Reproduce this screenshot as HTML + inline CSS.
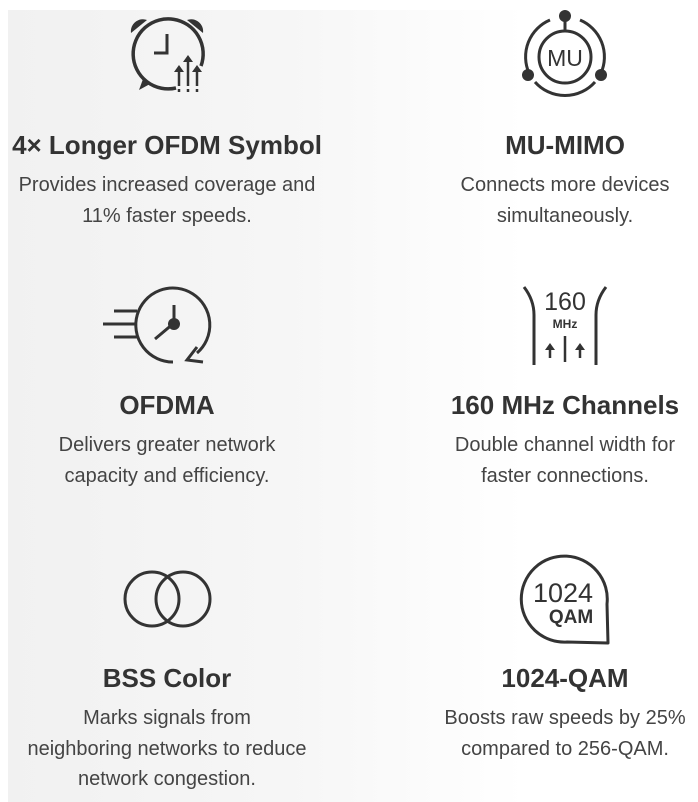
<!DOCTYPE html>
<html><head><meta charset="utf-8"><style>
html,body{margin:0;padding:0;width:698px;height:802px;overflow:hidden;background:#fff;font-family:"Liberation Sans",Arial,sans-serif;color:#333}
.bg{position:absolute;left:8px;top:10px;width:690px;height:792px;background:linear-gradient(90deg,#f1f1f1 0%,#f6f6f6 40%,#fff 75%)}
.t{position:absolute;text-align:center;width:440px}
.h{font-weight:bold;font-size:26px;color:#333}
.p{font-size:20px;line-height:30.5px;color:#444}
svg{position:absolute;left:0;top:0}
</style></head><body>
<div class="bg"></div>
<svg width="698" height="802" viewBox="0 0 698 802" fill="none" stroke="#333" stroke-width="3.5" stroke-linecap="butt">
<path d="M176 88 A35 35 0 1 1 201 66"/>
<path d="M150 84 L139 90 L143 79" fill="#333" stroke="none"/>
<path d="M131 33 A12 12 0 0 1 147 20 Z" fill="#333" stroke="none"/>
<path d="M187 20 A12 12 0 0 1 203 33 Z" fill="#333" stroke="none"/>
<path d="M167 34 V53 H154" stroke-width="3"/>
<g stroke-width="2.5"><path d="M179 86 V72 M188 86 V62 M197 86 V72" /><path d="M179 89 V92 M188 89 V92 M197 89 V92"/></g>
<path d="M174 72 L179 65 L184 72Z M183 62 L188 55 L193 62Z M192 72 L197 65 L202 72Z" fill="#333" stroke="none"/>
<path d="M550 20 A40 40 0 0 0 529 73 M535 82 A40 40 0 0 0 595 82 M601 73 A40 40 0 0 0 580 20" stroke-width="3"/>
<circle cx="565" cy="57" r="26" stroke-width="3"/>
<line x1="565" y1="20" x2="565" y2="31" stroke-width="3"/>
<circle cx="565" cy="16" r="6" fill="#333" stroke="none"/>
<circle cx="528" cy="75" r="6" fill="#333" stroke="none"/>
<circle cx="601" cy="75" r="6" fill="#333" stroke="none"/>
<text x="565" y="66" font-size="23" fill="#333" stroke="none" text-anchor="middle" font-family="Liberation Sans">MU</text>
<path d="M173 362 A37 37 0 1 1 197 353" stroke-width="3"/>
<path d="M197 347 L187 360 L203 362" stroke-width="3"/>
<path d="M114 311 H137 M103 324 H136 M114 337 H137" stroke-width="3"/>
<path d="M174 305 V323 L155 339" stroke-width="3"/>
<circle cx="174" cy="324" r="6" fill="#333" stroke="none"/>
<path d="M524 287 Q534 300 534 315 V365 M606 287 Q596 300 596 315 V365" stroke-width="3"/>
<text x="565" y="310" font-size="25" fill="#333" stroke="none" text-anchor="middle">160</text>
<text x="565" y="328" font-size="12" font-weight="bold" fill="#333" stroke="none" text-anchor="middle">MHz</text>
<path d="M565 336 V362" stroke-width="2.5"/>
<path d="M550 348 V358 M580 348 V358" stroke-width="2.5"/>
<path d="M545 350 L550 343 L555 350Z M575 350 L580 343 L585 350Z" fill="#333" stroke="none"/>
<circle cx="152" cy="599" r="27" stroke-width="3"/>
<circle cx="183" cy="599" r="27" stroke-width="3"/>
<path d="M607 604 A43 43 0 1 0 567 642 L608 643 Z" stroke-width="3" stroke-linejoin="round"/>
<text x="563" y="602" font-size="27" fill="#333" stroke="none" text-anchor="middle">1024</text>
<text x="571" y="623" font-size="19" font-weight="bold" fill="#333" stroke="none" text-anchor="middle">QAM</text>
</svg>
<div class="t h" style="left:-53px;top:130px">4× Longer OFDM Symbol</div>
<div class="t p" style="left:-53px;top:170px">Provides increased coverage and<br>11% faster speeds.</div>
<div class="t h" style="left:345px;top:130px">MU-MIMO</div>
<div class="t p" style="left:345px;top:170px">Connects more devices<br>simultaneously.</div>
<div class="t h" style="left:-53px;top:390px">OFDMA</div>
<div class="t p" style="left:-53px;top:430px">Delivers greater network<br>capacity and efficiency.</div>
<div class="t h" style="left:345px;top:390px">160 MHz Channels</div>
<div class="t p" style="left:345px;top:430px">Double channel width for<br>faster connections.</div>
<div class="t h" style="left:-53px;top:663px">BSS Color</div>
<div class="t p" style="left:-53px;top:703px">Marks signals from<br>neighboring networks to reduce<br>network congestion.</div>
<div class="t h" style="left:345px;top:663px">1024-QAM</div>
<div class="t p" style="left:345px;top:703px">Boosts raw speeds by 25%<br>compared to 256-QAM.</div>
</body></html>
